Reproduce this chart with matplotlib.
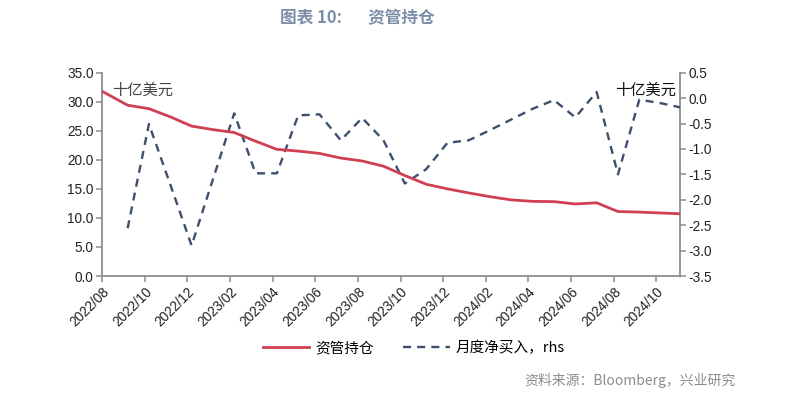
import matplotlib
matplotlib.use("Agg")
import matplotlib.pyplot as plt
import numpy as np
from matplotlib.lines import Line2D

plt.rcParams['font.family'] = ['Noto Sans CJK SC', 'DejaVu Sans']

months = ['2022/07', '2022/08', '2022/09', '2022/10', '2022/11', '2022/12',
          '2023/01', '2023/02', '2023/03', '2023/04', '2023/05', '2023/06',
          '2023/07', '2023/08', '2023/09', '2023/10', '2023/11', '2023/12',
          '2024/01', '2024/02', '2024/03', '2024/04', '2024/05', '2024/06',
          '2024/07', '2024/08', '2024/09', '2024/10', '2024/11']
holdings = [33.4, 31.4, 29.4, 28.8, 27.4, 25.8, 25.2, 24.7, 23.2, 21.8,
            21.5, 21.1, 20.3, 19.8, 18.9, 17.3, 15.8, 15.0, 14.3, 13.65,
            13.1, 12.85, 12.8, 12.4, 12.6, 11.1, 11.0, 10.85, 10.7]
net_buy = [np.nan, np.nan, -2.56, -0.51, -1.70, -2.90, -1.60, -0.30, -1.48, -1.48,
           -0.34, -0.32, -0.83, -0.39, -0.83, -1.68, -1.40, -0.88, -0.83,
           -0.63, -0.42, -0.21, -0.04, -0.38, 0.12, -1.50, -0.03, -0.10, -0.19]
tick_labels = months[1:28:2]

red = '#d13f52'
navy = '#3d4f6f'
spine_c = '#8c8c8c'

fig = plt.figure(figsize=(7.85, 3.96), dpi=100)
ax = fig.add_axes([0.130, 0.303, 0.736, 0.5135])
ax2 = ax.twinx()

x0 = months.index('2022/08')
xpos = np.arange(len(months)) - x0 + 0.2

ax.plot(xpos, holdings, color=red, lw=2.0, solid_capstyle='butt', zorder=3)
ax2.plot(xpos, net_buy, color=navy, lw=1.7, dashes=(3.4, 2.6), zorder=3)
ax.set_zorder(ax2.get_zorder() + 1)
ax.patch.set_visible(False)

ax.set_xlim(0, 27.1)
ax.set_ylim(0, 35)
ax2.set_ylim(-3.5, 0.5)
ax.set_yticks(np.arange(0, 35.1, 5))
ax.set_yticklabels([f'{v:.1f}' for v in np.arange(0, 35.1, 5)])
rt = np.arange(-3.5, 0.51, 0.5)
ax2.set_yticks(rt)
ax2.set_yticklabels([f'{v:.1f}' for v in rt])

ax.set_xticks(np.arange(0, 27, 2))
ax.set_xticklabels(tick_labels, rotation=45, ha='right', rotation_mode='anchor',
                   family=['Liberation Sans', 'DejaVu Sans'])

for a in (ax, ax2):
    a.spines['top'].set_visible(False)
    for s in ('left', 'right', 'bottom'):
        a.spines[s].set_color(spine_c)
        a.spines[s].set_linewidth(1.3)
    a.tick_params(axis='both', direction='out', length=4, width=1.1, color=spine_c,
                  labelsize=9.8, labelcolor='#222222', pad=2)
ax.spines['right'].set_visible(False)
ax2.spines['left'].set_visible(False)
ax2.spines['bottom'].set_visible(False)
for lab in ax.get_yticklabels() + ax2.get_yticklabels():
    lab.set_family(['Liberation Sans', 'DejaVu Sans'])

ax.text(0.017, 0.955, '十亿美元', transform=ax.transAxes, fontsize=11,
        color='#444444', ha='left', va='top', fontweight='light')
ax2.text(0.993, 0.955, '十亿美元', transform=ax.transAxes, fontsize=11,
         color='#111111', ha='right', va='top', fontweight='light')

fig.text(0.455, 0.955, '图表 10:       资管持仓', ha='center', va='center',
         fontsize=12, fontweight='bold', color='#7d8ea8')

h1 = Line2D([], [], color=red, lw=2.0)
h2 = Line2D([], [], color=navy, lw=1.7, dashes=(3.4, 2.6))
leg = fig.legend([h1, h2], ['资管持仓', '月度净买入，rhs'], loc='center',
                 bbox_to_anchor=(0.527, 0.121), ncol=2, frameon=False,
                 fontsize=10.5, handlelength=3.2, columnspacing=2.0,
                 handletextpad=0.4, prop={'weight': 'light', 'size': 10.5})

fig.text(0.937, 0.040, '资料来源：Bloomberg，兴业研究', ha='right', va='center',
         fontsize=10, color='#8c8c8c')

fig.savefig('out.png', dpi=100)
